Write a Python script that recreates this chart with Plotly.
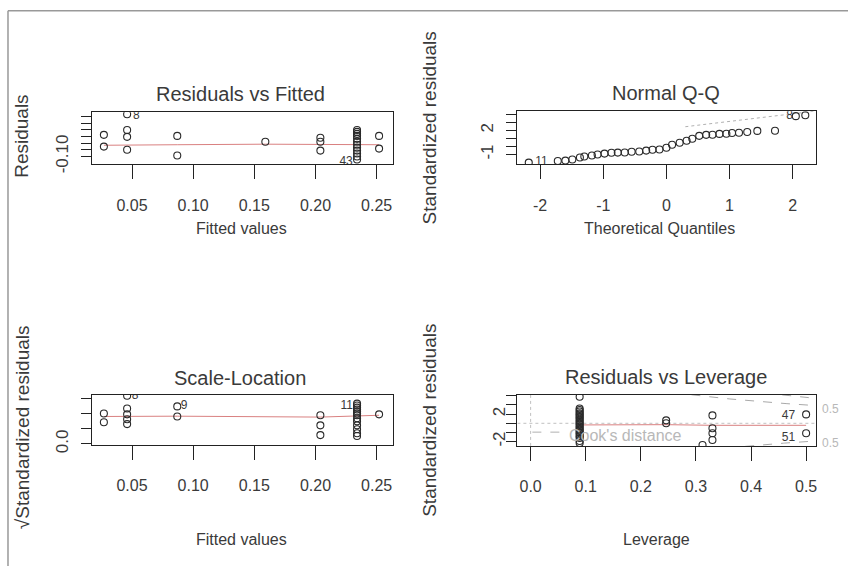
import plotly.graph_objects as go
import numpy as np

W, H = 849, 575

# ---------------- data ----------------
# Residuals vs Fitted
rf_fitted = [0.027, 0.027,
             0.046, 0.046, 0.046, 0.046,
             0.087, 0.087,
             0.159,
             0.204, 0.204, 0.204,
             0.234, 0.234, 0.234, 0.234, 0.234, 0.234, 0.234, 0.234, 0.234, 0.234, 0.234, 0.234,
             0.252, 0.252]
rf_resid = [0.062, -0.026,
            0.216, 0.098, 0.047, -0.049,
            0.054, -0.093,
            0.010,
            0.040, 0.010, -0.056,
            0.098, 0.084, 0.069, 0.054, 0.032, 0.010, -0.012, -0.034, -0.056, -0.078, -0.100, -0.122,
            0.054, -0.041]
rf_smooth_x = [0.027, 0.046, 0.087, 0.159, 0.204, 0.234, 0.252]
rf_smooth_y = [-0.016, -0.014, -0.012, -0.008, -0.010, -0.012, -0.012]
rf_lab_x = [0.0535, 0.2250]
rf_lab_y = [0.201, -0.142]
rf_lab_t = ["8", "43"]

# Normal Q-Q
qq_theo = [-2.18, -1.72, -1.60, -1.49, -1.37, -1.30, -1.18, -1.09, -0.98, -0.87, -0.77,
           -0.66, -0.55, -0.43, -0.32, -0.22, -0.11, 0.00, 0.09, 0.21, 0.32, 0.41, 0.52,
           0.63, 0.73, 0.84, 0.95, 1.04, 1.15, 1.28, 1.44, 1.72, 2.05, 2.20]
qq_std = [-2.00, -1.80, -1.75, -1.61, -1.37, -1.24, -1.12, -1.00, -0.88, -0.78, -0.76,
          -0.74, -0.65, -0.63, -0.51, -0.40, -0.38, -0.15, 0.22, 0.46, 0.71, 0.95, 1.32,
          1.44, 1.46, 1.56, 1.58, 1.68, 1.70, 1.80, 1.93, 1.95, 3.76, 3.88]
qq_line_x = [0.30, 2.37]
qq_line_y = [2.45, 4.40]
qq_lab_x = [-1.98, 1.95]
qq_lab_y = [-1.95, 3.80]
qq_lab_t = ["11", "8"]

# Scale-Location
sl_fitted = [0.027, 0.027,
             0.046, 0.046, 0.046, 0.046, 0.046,
             0.087, 0.087,
             0.204, 0.204, 0.204,
             0.234, 0.234, 0.234, 0.234, 0.234, 0.234, 0.234, 0.234, 0.234, 0.234, 0.234, 0.234, 0.234,
             0.252]
sl_sqrt = [1.00, 0.71,
           1.58, 1.16, 0.97, 0.81, 0.65,
           1.23, 0.90,
           0.94, 0.61, 0.29,
           1.32, 1.26, 1.19, 1.13, 1.06, 1.00, 0.94, 0.84, 0.74, 0.61, 0.48, 0.35, 0.26,
           0.97]
sl_smooth_x = [0.027, 0.046, 0.087, 0.204, 0.234, 0.252]
sl_smooth_y = [0.90, 0.90, 0.91, 0.88, 0.93, 0.94]
sl_lab_x = [0.0525, 0.0925, 0.2255]
sl_lab_y = [1.58, 1.23, 1.26]
sl_lab_t = ["8", "9", "11"]

# Residuals vs Leverage
lv_h = [0.089] * 24 + [0.246, 0.246, 0.330, 0.330, 0.330, 0.330, 0.312, 0.500, 0.500]
lv_std = [2.90, 1.61, 1.45, 1.29, 1.10, 0.97, 0.80, 0.65, 0.50, 0.32, 0.15, 0.00,
          -0.15, -0.32, -0.50, -0.65, -0.80, -0.97, -1.10, -1.29, -1.45, -1.61, -1.94, -2.15,
          0.32, 0.00, 0.86, -0.54, -1.08, -1.83, -2.37, 0.97, -1.08]
lv_smooth_x = [0.089, 0.246, 0.330, 0.500]
lv_smooth_y = [-0.18, -0.15, -0.22, -0.22]
lv_lab_x = [0.468, 0.468]
lv_lab_y = [0.75, -1.60]
lv_lab_t = ["47", "51"]
cook_levels = [0.5, 1.0]
n_params = 8

# ---------------- layout helpers ----------------
def xd(a, b):
    return [a / W, b / W]

def yd(top, bot):
    return [1 - bot / H, 1 - top / H]

FONT = "Liberation Sans, Arial, sans-serif"
TXT = "#3a3a3a"
PT = "#2a2a2a"
RED = "#d98080"

fig = go.Figure()

def pts(x, y, xa, ya):
    fig.add_trace(go.Scatter(x=x, y=y, mode="markers", xaxis=xa, yaxis=ya,
                             marker=dict(symbol="circle-open", size=7, color=PT, line=dict(width=1.1, color=PT)),
                             showlegend=False, hoverinfo="skip"))

def line(x, y, xa, ya, color, dash="solid", width=1):
    fig.add_trace(go.Scatter(x=x, y=y, mode="lines", xaxis=xa, yaxis=ya,
                             line=dict(color=color, dash=dash, width=width),
                             showlegend=False, hoverinfo="skip"))

def labels(x, y, t, xa, ya):
    fig.add_trace(go.Scatter(x=x, y=y, mode="text", text=t, xaxis=xa, yaxis=ya,
                             textfont=dict(family=FONT, size=12, color=TXT),
                             showlegend=False, hoverinfo="skip"))

# Panel 1
line(rf_smooth_x, rf_smooth_y, "x", "y", RED)
pts(rf_fitted, rf_resid, "x", "y")
labels(rf_lab_x, rf_lab_y, rf_lab_t, "x", "y")

# Panel 2
line(qq_line_x, qq_line_y, "x2", "y2", "#b0b0b0", dash="dot")
pts(qq_theo, qq_std, "x2", "y2")
labels(qq_lab_x, qq_lab_y, qq_lab_t, "x2", "y2")

# Panel 3
line(sl_smooth_x, sl_smooth_y, "x3", "y3", RED)
pts(sl_fitted, sl_sqrt, "x3", "y3")
labels(sl_lab_x, sl_lab_y, sl_lab_t, "x3", "y3")

# Panel 4
line([-0.024, 0.518], [0, 0], "x4", "y4", "#c0c0c0", dash="dot")
line([0, 0], [-2.47, 3.12], "x4", "y4", "#c0c0c0", dash="dot")
hh = np.linspace(0.01, 0.518, 300)
for lev in cook_levels:
    yy = np.sqrt(lev * n_params * (1 - hh) / hh)
    line(hh, yy, "x4", "y4", "#a8a8a8", dash="dash")
    line(hh, -yy, "x4", "y4", "#a8a8a8", dash="dash")
line(lv_smooth_x, lv_smooth_y, "x4", "y4", RED)
pts(lv_h, lv_std, "x4", "y4")
labels(lv_lab_x, lv_lab_y, lv_lab_t, "x4", "y4")

xfont = dict(family=FONT, size=16, color=TXT)
yfont = dict(family=FONT, size=17, color=TXT)

def xax(dom, rng, vals, text, anchor):
    return dict(domain=dom, range=rng, tickvals=vals, ticktext=text, anchor=anchor,
                showline=True, linecolor="#222", linewidth=1.2, mirror=True,
                ticks="outside", ticklen=14, tickcolor="#222", tickwidth=1,
                ticklabelstandoff=12,
                showgrid=False, zeroline=False, tickfont=xfont, fixedrange=True)

def yax(dom, rng, vals, text, anchor, standoff=6):
    return dict(domain=dom, range=rng, tickvals=vals, ticktext=text, anchor=anchor,
                showline=True, linecolor="#222", linewidth=1.2, mirror=True,
                ticks="outside", ticklen=10, tickcolor="#222", tickwidth=1, tickangle=-90,
                ticklabelstandoff=standoff,
                showgrid=False, zeroline=False, tickfont=yfont, fixedrange=True)

fx = [0.05, 0.10, 0.15, 0.20, 0.25]
fxt = ["0.05", "0.10", "0.15", "0.20", "0.25"]

fig.update_layout(
    width=W, height=H, margin=dict(l=0, r=0, t=0, b=0),
    paper_bgcolor="white", plot_bgcolor="white",
    xaxis=xax(xd(92, 393), [0.0172, 0.263], fx, fxt, "y"),
    yaxis=yax(yd(114, 167), [-0.159, 0.231], [-0.10, -0.05, 0, 0.05, 0.10, 0.15, 0.20],
              ["-0.10", "", "", "", "", "", ""], "x"),
    xaxis2=xax(xd(518, 817), [-2.36, 2.37], [-2, -1, 0, 1, 2], ["-2", "-1", "0", "1", "2"], "y2"),
    yaxis2=yax(yd(113, 167), [-2.22, 4.37], [-1, 0, 1, 2, 3, 4], ["-1", "", "", "2", "", ""], "x2"),
    xaxis3=xax(xd(92, 393), [0.0172, 0.263], fx, fxt, "y3"),
    yaxis3=yax(yd(401, 452), [-0.032, 1.613], [0, 0.5, 1.0, 1.5], ["0.0", "", "", ""], "x3"),
    xaxis4=xax(xd(518, 817), [-0.024, 0.518], [0, 0.1, 0.2, 0.3, 0.4, 0.5],
               ["0.0", "0.1", "0.2", "0.3", "0.4", "0.5"], "y4"),
    yaxis4=yax(yd(401, 453), [-2.47, 3.12], [-2, -1, 0, 1, 2, 3], ["-2", "", "", "2", "", ""], "x4",
               standoff=-6),
)

anns = []
def ann(text, x, y, size, color=TXT, angle=0):
    anns.append(dict(text=text, x=x / W, y=1 - y / H, xref="paper", yref="paper",
                     showarrow=False, xanchor="center", yanchor="middle", textangle=angle,
                     font=dict(family=FONT, size=size, color=color)))

# titles
ann("Residuals vs Fitted", 241, 95, 20)
ann("Normal Q-Q", 667, 94, 20)
ann("Scale-Location", 240, 384, 20)
ann("Residuals vs Leverage", 667, 383, 20)
# x labels
ann("Fitted values", 242, 232, 16)
ann("Theoretical Quantiles", 660, 232, 16)
ann("Fitted values", 242, 548, 16)
ann("Leverage", 657, 548, 16)
# y labels
ann("Residuals", 22, 138, 19, angle=-90)
ann("Standardized residuals", 430, 130, 19, angle=-90)
ann("√Standardized residuals", 22, 434, 19, angle=-90)
ann("Standardized residuals", 430, 427, 19, angle=-90)
# cook's legend & level labels
ann("Cook's distance", 626, 442, 16, color="#b8b8b8")
ann("0.5", 831, 415, 12, color="#b8b8b8")
ann("0.5", 831, 450, 12, color="#b8b8b8")
fig.update_layout(annotations=anns)

shapes = [
    dict(type="line", xref="paper", yref="paper", x0=533 / W, x1=563 / W, y0=1 - 439 / H, y1=1 - 439 / H,
         line=dict(color="#b0b0b0", width=1, dash="dash")),
    dict(type="line", xref="paper", yref="paper", x0=8 / W, x1=1, y0=1 - 11 / H, y1=1 - 11 / H,
         line=dict(color="#999", width=1.5)),
    dict(type="line", xref="paper", yref="paper", x0=8 / W, x1=8 / W, y0=0, y1=1 - 11 / H,
         line=dict(color="#999", width=1.5)),
]
fig.update_layout(shapes=shapes)

fig.write_html("out.html", config={"displayModeBar": False},
               post_script="document.body.style.margin='0';document.body.style.overflow='hidden';")
